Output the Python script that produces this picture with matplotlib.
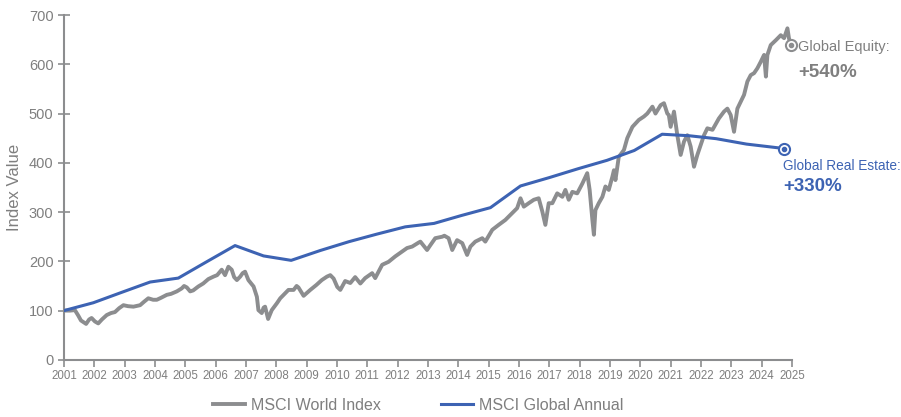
import matplotlib.pyplot as plt

# MSCI World Index (rebased to 100)
world_years = [2001.00, 2001.20, 2001.36, 2001.47, 2001.56, 2001.73, 2001.83, 2001.91,
               2002.02, 2002.13, 2002.25, 2002.41, 2002.55, 2002.68, 2002.82, 2002.96,
               2003.11, 2003.29, 2003.51, 2003.64, 2003.78, 2003.94, 2004.06, 2004.20,
               2004.39, 2004.53, 2004.72, 2004.88, 2004.96, 2005.05, 2005.16, 2005.26,
               2005.43, 2005.59, 2005.76, 2005.93, 2006.05, 2006.20, 2006.31, 2006.42,
               2006.53, 2006.61, 2006.70, 2006.81, 2006.89, 2006.97, 2007.08, 2007.25,
               2007.36, 2007.41, 2007.52, 2007.58, 2007.63, 2007.73, 2007.85, 2008.02,
               2008.13, 2008.24, 2008.40, 2008.57, 2008.67, 2008.73, 2008.90, 2008.99,
               2009.12, 2009.32, 2009.50, 2009.67, 2009.78, 2009.89, 2010.01, 2010.11,
               2010.27, 2010.44, 2010.60, 2010.77, 2010.93, 2011.16, 2011.26, 2011.49,
               2011.70, 2011.92, 2012.15, 2012.31, 2012.48, 2012.69, 2012.75, 2012.97,
               2013.08, 2013.24, 2013.47, 2013.54, 2013.68, 2013.80, 2013.96, 2014.13,
               2014.29, 2014.40, 2014.56, 2014.79, 2014.89, 2015.12, 2015.33, 2015.55,
               2015.78, 2015.94, 2016.05, 2016.16, 2016.32, 2016.49, 2016.65, 2016.77,
               2016.87, 2016.98, 2017.10, 2017.26, 2017.43, 2017.53, 2017.64, 2017.76,
               2017.92, 2018.09, 2018.25, 2018.33, 2018.42, 2018.47, 2018.52, 2018.63,
               2018.75, 2018.85, 2018.96, 2019.08, 2019.13, 2019.18, 2019.29, 2019.46,
               2019.57, 2019.74, 2019.95, 2020.12, 2020.23, 2020.40, 2020.50, 2020.67,
               2020.78, 2020.89, 2020.94, 2021.00, 2021.11, 2021.22, 2021.33, 2021.44,
               2021.55, 2021.66, 2021.77, 2021.88, 2021.99, 2022.10, 2022.21, 2022.38,
               2022.59, 2022.76, 2022.87, 2022.98, 2023.09, 2023.20, 2023.31, 2023.42,
               2023.53, 2023.64, 2023.75, 2023.86, 2023.97, 2024.08, 2024.14, 2024.19,
               2024.30, 2024.47, 2024.63, 2024.74, 2024.85, 2024.90, 2024.96]
world_vals = [100, 100, 101, 90, 80, 73, 82, 85,
              78, 74, 82, 91, 95, 97, 105, 111,
              109, 108, 111, 118, 125, 122, 122, 126,
              132, 134, 139, 145, 150, 147, 139, 141,
              149, 155, 164, 169, 172, 183, 172, 189,
              183, 168, 162, 169, 176, 179, 162, 149,
              128, 101, 95, 106, 108, 83, 101, 115,
              125, 132, 142, 142, 150, 147, 130, 135,
              142, 152, 162, 169, 172, 165, 148, 142,
              160, 156, 168, 155, 166, 176, 166, 193,
              199, 210, 220, 227, 230, 238, 240, 223,
              233, 247, 250, 252, 247, 223, 243, 237,
              213, 230, 240, 247, 240, 264, 274, 284,
              298, 308, 328, 311, 318, 325, 328, 301,
              274, 318, 318, 338, 331, 345, 325, 341,
              338, 358, 379, 345, 284, 254, 304, 318,
              331, 352, 345, 372, 385, 365, 412, 426,
              450, 473, 487, 494, 500, 514, 500, 517,
              521, 500, 497, 473, 504, 456, 416, 443,
              456, 433, 392, 416, 436, 456, 470, 467,
              490, 504, 510, 497, 463, 510, 524, 538,
              565, 578, 582, 592, 605, 619, 575, 619,
              639, 649, 659, 653, 673, 653, 640]

# MSCI Global Annual (real estate)
annual_years = [2001.00, 2001.97, 2002.90, 2003.84, 2004.77, 2005.70, 2006.64, 2007.58,
                2008.49, 2009.45, 2010.40, 2011.30, 2012.25, 2013.20, 2014.10, 2015.06,
                2016.05, 2017.00, 2017.95, 2018.90, 2019.80, 2020.72, 2021.60, 2022.50,
                2023.50, 2024.74]
annual_vals = [100, 116, 137, 158, 166, 199, 232, 211,
               202, 222, 240, 255, 270, 277, 293, 309,
               353, 370, 388, 405, 425, 458, 455, 449,
               438, 429]

year_ticks = list(range(2001, 2026))

GRAY = '#8c8d8f'
BLUE = '#3d63b3'
TXT = '#7f7f7f'

plt.rcParams['font.family'] = ['Liberation Sans', 'DejaVu Sans']

fig = plt.figure(figsize=(9.01, 4.17), dpi=100)
ax = fig.add_axes([0.071, 0.137, 0.808, 0.827])

ax.plot(world_years, world_vals, color=GRAY, lw=2.8, label='MSCI World Index', zorder=2)
ax.plot(annual_years, annual_vals, color=BLUE, lw=2.2, label='MSCI Global Annual', zorder=3)

# end markers
for xx, yy, cc in [(world_years[-1], world_vals[-1], GRAY), (annual_years[-1], annual_vals[-1], BLUE)]:
    ax.plot(xx, yy, 'o', ms=8, mfc='white', mec=cc, mew=1.5, zorder=4, clip_on=False)
    ax.plot(xx, yy, 'o', ms=3, color=cc, zorder=5, clip_on=False)

ax.text(2025.2, 635, 'Global Equity:', color=TXT, fontsize=10.5, va='center', clip_on=False)
ax.text(2025.2, 584, '+540%', color=TXT, fontsize=13.5, fontweight='bold', va='center')
ax.text(2024.7, 394, 'Global Real Estate:', color=BLUE, fontsize=9.8, va='center')
ax.text(2024.7, 351, '+330%', color=BLUE, fontsize=13.5, fontweight='bold', va='center')

ax.set_xlim(2001, 2025)
ax.set_ylim(0, 700)
ax.set_xticks(year_ticks)
ax.set_xticklabels([str(y) for y in year_ticks])
ax.set_yticks(range(0, 701, 100))
ax.set_ylabel('Index Value', color=TXT, fontsize=12, labelpad=5)

for s in ['top', 'right']:
    ax.spines[s].set_visible(False)
for s in ['left', 'bottom']:
    ax.spines[s].set_color(GRAY)
    ax.spines[s].set_linewidth(1.5)
ax.tick_params(axis='x', colors=GRAY, labelcolor=TXT, labelsize=8.3, length=5, width=1.2,
               direction='out', pad=2)
ax.tick_params(axis='y', colors=GRAY, labelcolor=TXT, labelsize=10.5, length=8, width=1.2,
               direction='inout')

fig.legend(loc='lower center', bbox_to_anchor=(0.464, -0.025), ncol=2, frameon=False,
           fontsize=11.5, labelcolor=TXT, handlelength=2.0, handletextpad=0.35, columnspacing=3.8)

fig.savefig('out.png', dpi=100)
